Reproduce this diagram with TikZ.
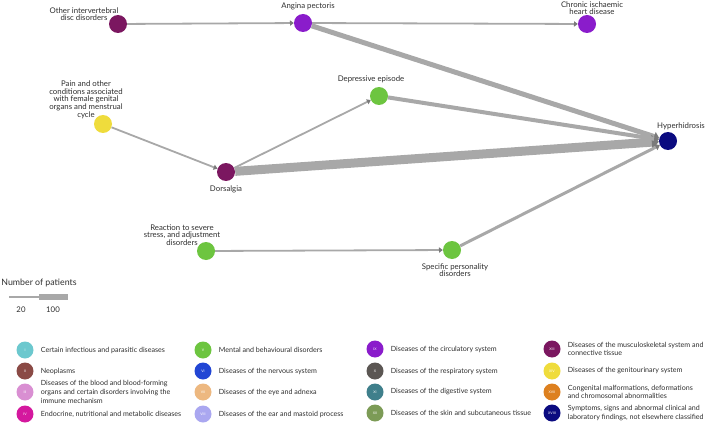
\documentclass[tikz,border=0pt]{standalone}
\usepackage{fontspec}
\setmainfont{Lato}
\usepackage{xcolor}
\usepackage{tikz}
\usetikzlibrary{positioning,arrows.meta}
\definecolor{edgegray}{HTML}{A8A8A8}
\definecolor{tipgray}{HTML}{7A7A7A}
\definecolor{txtgray}{HTML}{2E2E2E}
\definecolor{icdI}{HTML}{6CC8CE}
\definecolor{icdII}{HTML}{8A4A45}
\definecolor{icdIII}{HTML}{D98FD2}
\definecolor{icdIV}{HTML}{D4189E}
\definecolor{icdV}{HTML}{6DC540}
\definecolor{icdVI}{HTML}{2246D4}
\definecolor{icdVII}{HTML}{EDB880}
\definecolor{icdVIII}{HTML}{AAA7F0}
\definecolor{icdIX}{HTML}{8A1CCB}
\definecolor{icdX}{HTML}{5B5653}
\definecolor{icdXI}{HTML}{3F7F8B}
\definecolor{icdXII}{HTML}{7C9B56}
\definecolor{icdXIII}{HTML}{7B1760}
\definecolor{icdXIV}{HTML}{EFDC3C}
\definecolor{icdXVII}{HTML}{DD801F}
\definecolor{icdXVIII}{HTML}{0B0B80}

\begin{document}
\begin{tikzpicture}[x=1pt, y=-1pt,
      font=\fontsize{7.8}{7.2}\selectfont, text=txtgray,
      dis/.style={circle, fill=#1, minimum size=18pt, inner sep=0pt},
      lbl/.style={align=center, inner sep=0pt, font=\fontsize{7.8}{7.1}\selectfont},
      cat/.style={circle, fill=#1, minimum size=17pt, inner sep=0pt, text=white,
                  font=\fontsize{3.5}{4}\selectfont},
      cattxt/.style={align=left, inner sep=0pt, font=\fontsize{7.1}{8.6}\selectfont},
      flow/.style={draw=edgegray, line width=#1,
                   -{Triangle[length=3pt 0.45, width=3pt 1.25, color=tipgray]}},
      node distance=3pt]
    \useasboundingbox (0,0) rectangle (709,425);
    % disease nodes
    \node[dis=icdXIII] (oth) at (118,24) {};
    \node[dis=icdIX] (ang) at (303,23) {};
    \node[dis=icdIX] (chr) at (587,24) {};
    \node[dis=icdXIV] (pain) at (103,124) {};
    \node[dis=icdXIII] (dor) at (226,172) {};
    \node[dis=icdV] (dep) at (379,96) {};
    \node[dis=icdXVIII] (hyp) at (668,141) {};
    \node[dis=icdV] (rea) at (206,251) {};
    \node[dis=icdV] (spe) at (452,250) {};
    % labels
    \node[lbl, anchor=south] (othl) at (84,21) {Other intervertebral\\disc disorders};
    \node[lbl, above=4pt of ang, xshift=5pt] (angl) {Angina pectoris};
    \node[lbl, anchor=south] (chrl) at (592,15) {Chronic ischaemic\\heart disease};
    \node[lbl, anchor=south] (painl) at (86,119) {Pain and other\\conditions associated\\with female genital\\organs and menstrual\\cycle};
    \node[lbl, below=4pt of dor] (dorl) {Dorsalgia};
    \node[lbl, above=4pt of dep, xshift=-8pt] (depl) {Depressive episode};
    \node[lbl, anchor=south] (hypl) at (681,130) {Hyperhidrosis};
    \node[lbl, anchor=south] (real) at (182,246) {Reaction to severe\\stress, and adjustment\\disorders};
    \node[lbl, below=4pt of spe, xshift=3pt] (spel) {Specific personality\\disorders};
    % flows
    \draw[flow=1.8pt] (oth) -- (ang);
    \draw[flow=1.8pt] (ang) -- (chr);
    \draw[flow=5pt] (ang) -- (hyp);
    \draw[flow=1.8pt] (pain) -- (dor);
    \draw[flow=1.8pt] (dor) -- (dep);
    \draw[flow=9pt] (dor) -- (hyp);
    \draw[flow=4pt] (dep) -- (hyp);
    \draw[flow=1.8pt] (rea) -- (spe);
    \draw[flow=3pt] (spe) -- (hyp);
    % width legend
    \node[lbl, font=\fontsize{8.8}{9}\selectfont] (npat) at (39,283) {Number of patients};
    \draw[edgegray, line width=1.8pt] (9,297) -- (39,297);
    \fill[edgegray] (39,294.3) rectangle (68,299.7);
    \node[lbl] (n20) at (21,310) {20};
    \node[lbl] (n100) at (53,310) {100};
    % ICD chapter legend
    \foreach \cx/\cy/\num/\txt in {
        25/350/I/{Certain infectious and parasitic diseases},
        25/371/II/{Neoplasms},
        25/392/III/{Diseases of the blood and blood-forming\\organs and certain disorders involving the\\immune mechanism},
        25/414/IV/{Endocrine, nutritional and metabolic diseases},
        203/350/V/{Mental and behavioural disorders},
        203/371/VI/{Diseases of the nervous system},
        203/392/VII/{Diseases of the eye and adnexa},
        203/414/VIII/{Diseases of the ear and mastoid process},
        375/349/IX/{Diseases of the circulatory system},
        375/371/X/{Diseases of the respiratory system},
        375/392/XI/{Diseases of the digestive system},
        375/413/XII/{Diseases of the skin and subcutaneous tissue},
        552/349/XIII/{Diseases of the musculoskeletal system and\\connective tissue},
        552/371/XIV/{Diseases of the genitourinary system},
        552/392/XVII/{Congenital malformations, deformations\\and chromosomal abnormalities},
        552/413/XVIII/{Symptoms, signs and abnormal clinical and\\laboratory findings, not elsewhere classified}}
      {
        \node[cat=icd\num] (c\num) at (\cx,\cy) {\num};
        \node[cattxt, right=7pt of c\num] (t\num) {\txt};
      }
  \end{tikzpicture}
\end{document}
